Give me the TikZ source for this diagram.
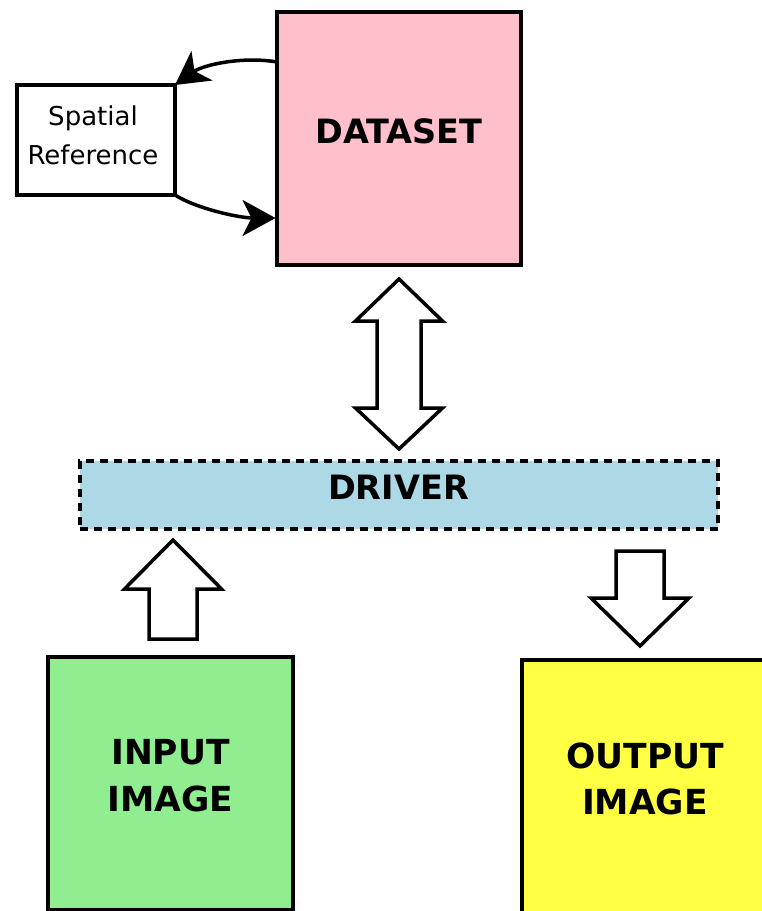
\documentclass[tikz,border=0pt]{standalone}
\usepackage{fontspec}
\setmainfont{DejaVu Sans}
\usetikzlibrary{arrows.meta,calc}
\definecolor{dspink}{HTML}{FFC0CB}
\definecolor{drvblue}{HTML}{ADD8E6}
\definecolor{ingreen}{HTML}{90EE90}
\definecolor{outyellow}{HTML}{FFFF44}
\begin{document}
\begin{tikzpicture}[x=1pt,y=-1pt,
  box/.style={draw=black,line width=3.7pt,inner sep=0pt,outer sep=0pt},
  lbl/.style={align=center,inner sep=0pt,outer sep=0pt},
  blockarrow/.style={draw=black,fill=white,line width=3.5pt,line join=miter,miter limit=10},
  curvearrow/.style={draw=black,line width=3.5pt,-{Stealth[length=33pt,width=36pt,inset=9pt]}}]
\useasboundingbox (0,0) rectangle (762,911);

% boxes
\node[box,fill=dspink,minimum width=244pt,minimum height=253pt] (ds) at (399,138.5) {};
\node[box,fill=white,minimum width=158pt,minimum height=110pt] (sr) at (96,140) {};
\node[box,fill=drvblue,dash pattern=on 8pt off 6pt,minimum width=638pt,minimum height=68pt] (drv) at (399,495) {};
\node[box,fill=ingreen,minimum width=245pt,minimum height=253pt] (in) at (170.5,783.5) {};
\node[box,fill=outyellow,minimum width=244pt,minimum height=253pt] (out) at (644,786.5) {};

% labels
\node[lbl,font=\bfseries\fontsize{33.5}{40}\selectfont] (dst) at (399,131.3) {DATASET};
\node[lbl,font=\fontsize{26}{39.5}\selectfont] (srt) at (93,135.5) {Spatial\\Reference};
\node[lbl,font=\bfseries\fontsize{33.5}{40}\selectfont] (drvt) at (398.5,487) {DRIVER};
\node[lbl,font=\bfseries\fontsize{34.5}{46.7}\selectfont] (int) at (170.5,776) {INPUT\\IMAGE};
\node[lbl,font=\bfseries\fontsize{34.5}{46.7}\selectfont] (outt) at (645,779) {OUTPUT\\IMAGE};

% curved arrows between DATASET and Spatial Reference
\draw[curvearrow] ($(ds.north west)+(0,50)$) .. controls +(-35,-6) and +(28,-20) .. (sr.north east);
\draw[curvearrow] (sr.south east) .. controls +(22,14) and +(-35,0) .. ($(ds.north west)+(-1.5,206)$);

% double block arrow DATASET <-> DRIVER
\coordinate (dtop) at ($(ds.south)+(0,14)$);
\draw[blockarrow] (dtop) -- ++(43.5,42) -- ++(-21.5,0) -- ++(0,87) -- ++(21.5,0)
  -- ++(-43.5,41) -- ++(-43.5,-41) -- ++(21.5,0) -- ++(0,-87) -- ++(-21.5,0) -- cycle;

% up block arrow INPUT -> DRIVER
\coordinate (uptip) at ($(drv.south west)+(93,11)$);
\draw[blockarrow] (uptip) -- ++(48.5,49) -- ++(-24.5,0) -- ++(0,50) -- ++(-48,0)
  -- ++(0,-50) -- ++(-24.5,0) -- cycle;

% down block arrow DRIVER -> OUTPUT
\coordinate (dntip) at ($(out.north west)+(118,-14)$);
\draw[blockarrow] (dntip) -- ++(49,-48) -- ++(-25,0) -- ++(0,-47) -- ++(-48,0)
  -- ++(0,47) -- ++(-25,0) -- cycle;
\end{tikzpicture}
\end{document}
